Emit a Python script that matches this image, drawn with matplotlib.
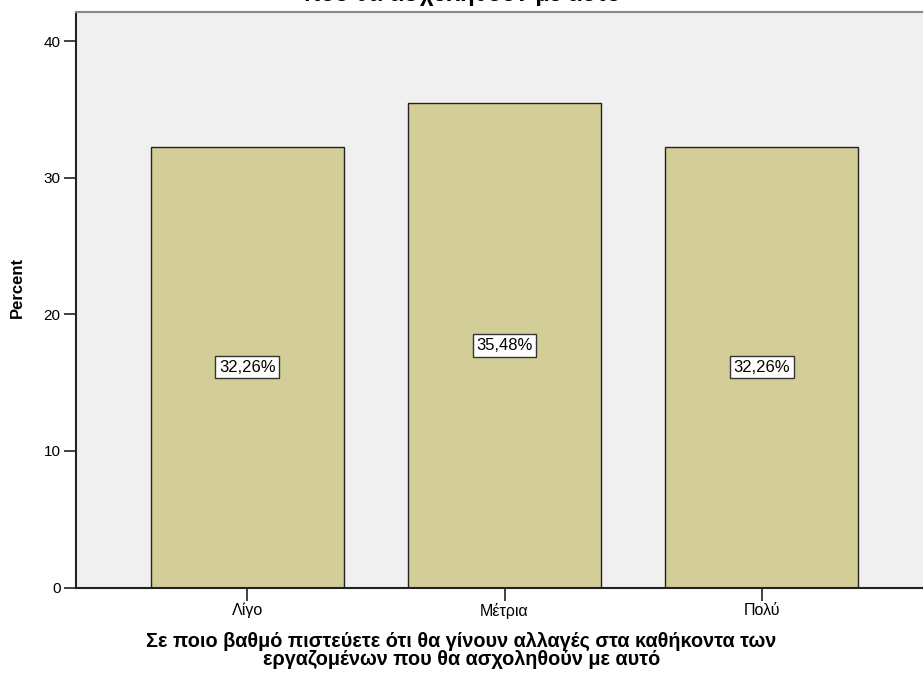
import matplotlib
matplotlib.use("Agg")
import matplotlib.pyplot as plt

plt.rcParams["font.family"] = ["Liberation Sans", "DejaVu Sans"]

# categorias e percentuais
categorias = ["Λίγο", "Μέτρια", "Πολύ"]
percentuais = [32.26, 35.48, 32.26]
rotulos = ["32,26%", "35,48%", "32,26%"]
yticks = [0, 10, 20, 30, 40]

titulo = "Σε ποιο βαθμό πιστεύετε ότι θα γίνουν αλλαγές στα καθήκοντα των\nεργαζομένων που θα ασχοληθούν με αυτό"
titulo_topo = "που θα ασχοληθούν με αυτό"

W, H = 923, 679
fig = plt.figure(figsize=(W / 100, H / 100), dpi=100)
ax = fig.add_axes([76 / W, (H - 587.5) / H, 1 - 76 / W, (587.5 - 12) / H])
ax.set_facecolor("#f0f0f0")

x = range(len(categorias))
ax.bar(x, percentuais, width=0.75, color="#d3ce97", edgecolor="#222222", linewidth=1.0, zorder=2)

# rotulo com o valor no meio de cada barra
for xi, v, r in zip(x, percentuais, rotulos):
    ax.text(xi, v / 2, r, ha="center", va="center", fontsize=12, zorder=3,
            bbox=dict(boxstyle="square,pad=0.22", facecolor="white", edgecolor="#333333", linewidth=1.0))

ax.set_xlim(-0.667, 2.628)
ax.set_ylim(0, 42.16)
ax.set_xticks(list(x))
ax.set_xticklabels(categorias, fontsize=11.5)
ax.set_yticks(yticks)
ax.set_yticklabels([str(t) for t in yticks], fontsize=11)
ax.tick_params(axis="both", direction="out", length=9, width=1.2, color="#222222", pad=2)

for s in ["left", "bottom"]:
    ax.spines[s].set_color("#222222")
    ax.spines[s].set_linewidth(1.5)
ax.spines["top"].set_color("#888888")
ax.spines["top"].set_linewidth(1.5)
ax.spines["right"].set_visible(False)

ax.set_ylabel("Percent", fontsize=12, fontweight="bold")
ax.yaxis.set_label_coords(-0.0602, 0.522)

# titulo cortado no topo e rotulo do eixo x
fig.text(0.5, 1 - 1.5 / H, titulo_topo, ha="center", va="baseline", fontsize=17, fontweight="bold")
fig.text(0.5, 1 - 632 / H, titulo, ha="center", va="top", fontsize=14.3, fontweight="bold", linespacing=0.9)

fig.savefig("out.png", dpi=100)
